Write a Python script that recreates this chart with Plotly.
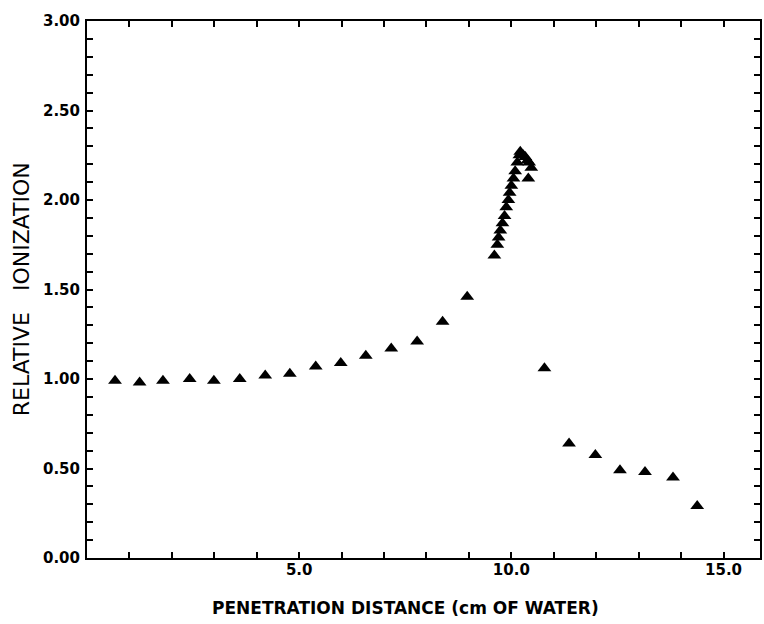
import plotly.graph_objects as go

# Penetration distance (cm of water) and relative ionization
depth = [0.66, 1.24, 1.79, 2.42, 2.99, 3.60, 4.20, 4.78, 5.39, 5.98, 6.57, 7.17, 7.78,
         8.38, 8.96,
         9.60, 9.67, 9.70, 9.74, 9.79, 9.84, 9.88, 9.93, 9.96, 10.00, 10.05, 10.09,
         10.14, 10.19, 10.21,
         10.28, 10.33, 10.38, 10.42, 10.47, 10.40,
         10.78, 11.36, 11.98, 12.56, 13.15, 13.81, 14.38]
ionization = [0.99, 0.98, 0.99, 1.00, 0.99, 1.00, 1.02, 1.03, 1.07, 1.09, 1.13, 1.17, 1.21,
              1.32, 1.46,
              1.69, 1.75, 1.79, 1.83, 1.87, 1.91, 1.96, 2.00, 2.04, 2.08, 2.12, 2.16,
              2.21, 2.25, 2.27,
              2.25, 2.24, 2.22, 2.21, 2.18, 2.12,
              1.06, 0.64, 0.575, 0.49, 0.48, 0.45, 0.29]

x_tick_vals = [5, 10, 15]
x_tick_text = ["5.0", "10.0", "15.0"]
y_tick_vals = [0.0, 0.5, 1.0, 1.5, 2.0, 2.5, 3.0]
y_tick_text = ["0.00", "0.50", "1.00", "1.50", "2.00", "2.50", "3.00"]

fig = go.Figure(go.Scatter(
    x=depth, y=ionization, mode="markers",
    marker=dict(symbol="triangle-up", size=12, color="black", line=dict(width=0)),
))

axis_common = dict(
    ticks="inside", ticklen=6, tickwidth=1.5, tickcolor="black",
    showline=True, linewidth=2, linecolor="black", mirror="allticks",
    showgrid=False, zeroline=False,
    tickfont=dict(family="DejaVu Sans", size=15, color="black", weight="bold"),
)

fig.update_xaxes(
    range=[0, 15.86], tickmode="array", tickvals=x_tick_vals, ticktext=x_tick_text,
    minor=dict(ticks="inside", tickmode="linear", tick0=0, dtick=1, ticklen=6,
               tickwidth=1.5, tickcolor="black"),
    ticklabelstandoff=-3,
    **axis_common,
)
fig.update_yaxes(
    range=[0, 3.0], tickmode="array", tickvals=y_tick_vals, ticktext=y_tick_text,
    minor=dict(ticks="inside", tickmode="linear", tick0=0, dtick=0.1, ticklen=6,
               tickwidth=1.5, tickcolor="black"),
    ticklabelstandoff=2,
    **axis_common,
)

fig.update_layout(
    width=764, height=624,
    margin=dict(l=87, r=2, t=21, b=66),
    plot_bgcolor="white", paper_bgcolor="white",
    showlegend=False,
    annotations=[
        dict(text="PENETRATION DISTANCE (cm OF WATER)", xref="paper", yref="paper",
             x=0.473, y=-0.093, xanchor="center", yanchor="middle", showarrow=False,
             font=dict(family="DejaVu Sans", size=17, color="black", weight="bold")),
        dict(text="RELATIVE   IONIZATION", xref="paper", yref="paper",
             x=-0.097, y=0.5, xanchor="center", yanchor="middle", showarrow=False,
             textangle=-90,
             font=dict(family="DejaVu Sans", size=22, color="black")),
    ],
)

fig.write_html("out.html")
